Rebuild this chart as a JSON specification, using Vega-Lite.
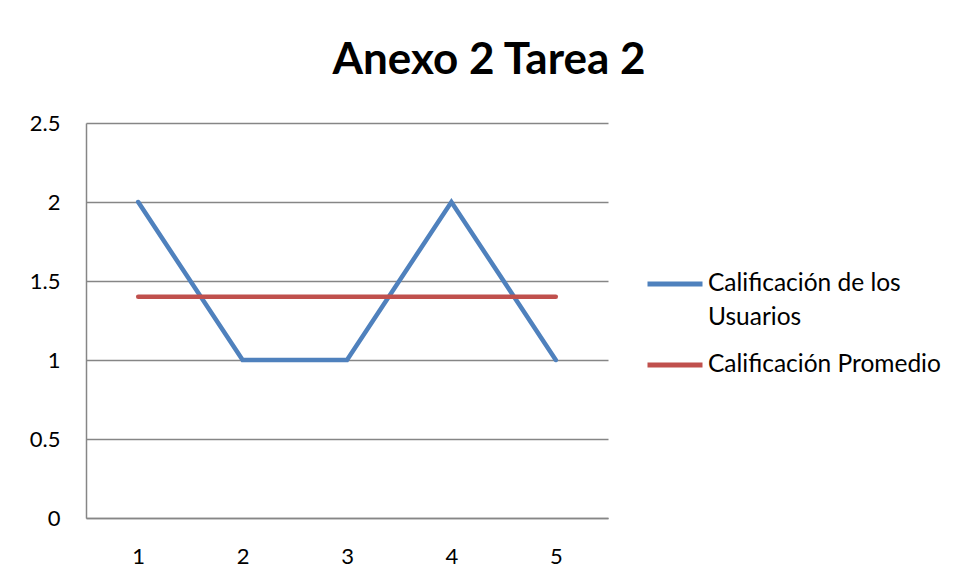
{
  "$schema": "https://vega.github.io/schema/vega-lite/v6.json",
  "width": 522,
  "height": 395,
  "autosize": {"type": "none"},
  "padding": {"left": 86, "top": 123, "right": 351, "bottom": 62},
  "background": "white",
  "title": {
    "text": "Anexo 2 Tarea 2",
    "font": "Lato",
    "fontSize": 44,
    "fontWeight": "bold",
    "color": "black",
    "anchor": "middle",
    "frame": "group",
    "dx": 142,
    "baseline": "alphabetic",
    "offset": -6
  },
  "data": {
    "values": [
      {"x": "1", "y": 2, "serie": "Calificación de los Usuarios"},
      {"x": "2", "y": 1, "serie": "Calificación de los Usuarios"},
      {"x": "3", "y": 1, "serie": "Calificación de los Usuarios"},
      {"x": "4", "y": 2, "serie": "Calificación de los Usuarios"},
      {"x": "5", "y": 1, "serie": "Calificación de los Usuarios"},
      {"x": "1", "y": 1.4, "serie": "Calificación Promedio"},
      {"x": "2", "y": 1.4, "serie": "Calificación Promedio"},
      {"x": "3", "y": 1.4, "serie": "Calificación Promedio"},
      {"x": "4", "y": 1.4, "serie": "Calificación Promedio"},
      {"x": "5", "y": 1.4, "serie": "Calificación Promedio"}
    ]
  },
  "mark": {"type": "line", "strokeWidth": 4.5, "strokeCap": "round", "strokeJoin": "miter"},
  "encoding": {
    "x": {
      "field": "x",
      "type": "ordinal",
      "title": null,
      "axis": {
        "labelAngle": 0,
        "ticks": false,
        "domainColor": "#868686",
        "domainWidth": 1.5,
        "labelFont": "Lato",
        "labelFontSize": 22,
        "labelColor": "black",
        "labelPadding": 28,
        "grid": false
      }
    },
    "y": {
      "field": "y",
      "type": "quantitative",
      "title": null,
      "scale": {"domain": [0, 2.5], "nice": false},
      "axis": {
        "values": [0, 0.5, 1, 1.5, 2, 2.5],
        "labelExpr": "datum.value + ''",
        "ticks": false,
        "domainColor": "#868686",
        "domainWidth": 1.5,
        "gridColor": "#868686",
        "gridWidth": 1.5,
        "labelFont": "Lato",
        "labelFontSize": 22,
        "labelColor": "black",
        "labelPadding": 26
      }
    },
    "color": {
      "field": "serie",
      "type": "nominal",
      "scale": {
        "domain": ["Calificación de los Usuarios", "Calificación Promedio"],
        "range": ["#4F81BD", "#C0504D"]
      },
      "legend": {
        "title": null,
        "orient": "none",
        "legendX": 559,
        "legendY": 131,
        "symbolType": "stroke",
        "symbolSize": 3025,
        "symbolStrokeWidth": 5,
        "labelFont": "Lato",
        "labelFontSize": 24.5,
        "labelColor": "black",
        "labelOffset": 3,
        "labelLimit": 400,
        "rowPadding": 5,
        "labelExpr": "datum.label == 'Calificación de los Usuarios' ? ['Calificación de los', 'Usuarios'] : datum.label"
      }
    }
  },
  "config": {
    "view": {"stroke": null},
    "style": {"guide-label": {"lineHeight": 34}}
  }
}
